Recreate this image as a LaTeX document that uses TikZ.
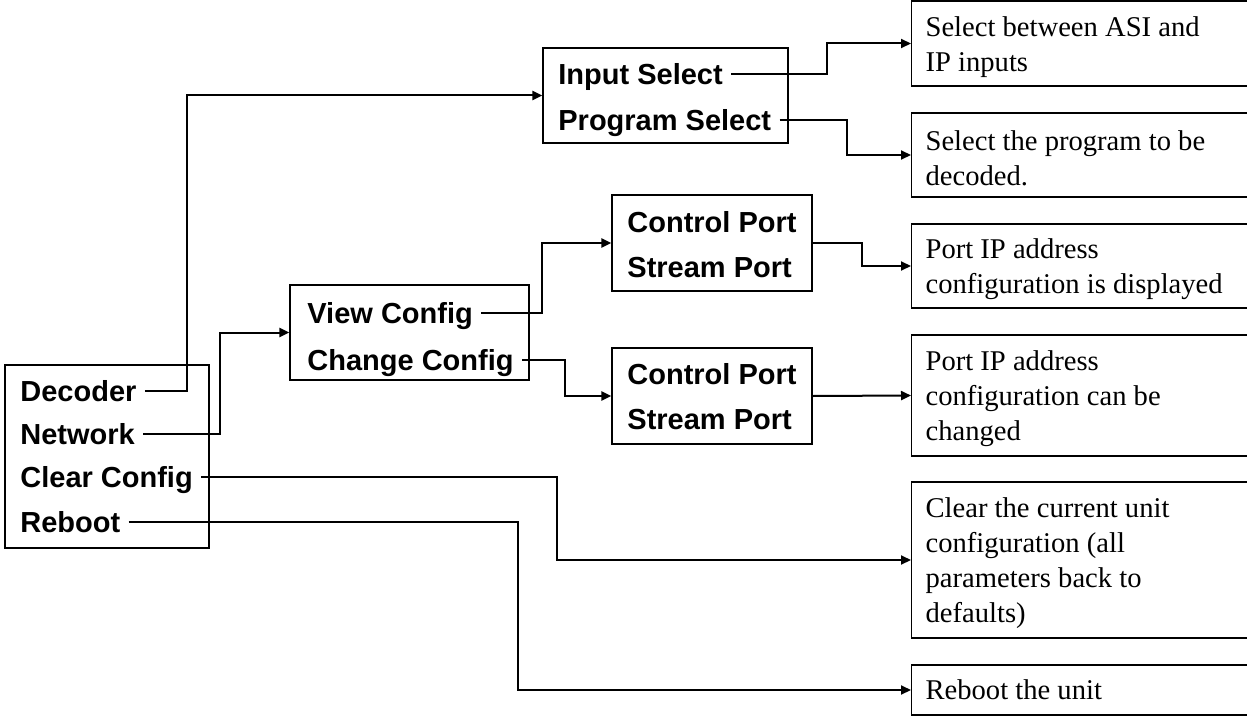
\documentclass[tikz,border=0pt]{standalone}
\usepackage{fontspec}
\setmainfont{Liberation Serif}
\setsansfont{Liberation Sans}
\usetikzlibrary{arrows.meta,positioning}

\begin{document}
\begin{tikzpicture}[
    x=0.5pt, y=-0.5pt,
    menu/.style={draw, line width=0.6pt, inner sep=0pt},
    item/.style={anchor=west, inner xsep=4pt, inner ysep=0pt, text height=10.4pt, text depth=0pt, font=\fontsize{14.5}{17}\selectfont\sffamily\bfseries},
    info/.style={draw, line width=0.6pt, anchor=west, align=flush left, inner xsep=7pt, inner ysep=0pt, text width=155pt, font=\fontsize{14.3}{17.5}\selectfont},
    lowered/.style={execute at begin node={\rule{0pt}{13.5pt}}},
    arrow/.style={-{Triangle[length=5pt,width=4.5pt]}, line width=1pt}
]
\useasboundingbox (0,0) rectangle (1247,717);

% Menu boxes
\node[menu, minimum width=102pt, minimum height=91.5pt] (main) at (107,456.5) {};
\node[menu, minimum width=122.5pt, minimum height=47.5pt] (sel) at (665.5,95.5) {};
\node[menu, minimum width=119.5pt, minimum height=47.5pt] (cfg) at (409.5,332.5) {};
\node[menu, minimum width=100pt, minimum height=48pt] (port1) at (712,243) {};
\node[menu, minimum width=100pt, minimum height=48pt] (port2) at (712,396) {};

% Menu entries
\node[item] (dec) at (12,391) {Decoder};
\node[item] (net) at (12,434) {Network};
\node[item] (clr) at (12,477) {Clear Config};
\node[item] (rbt) at (12,522) {Reboot};
\node[item] (insel) at (550,74) {Input Select};
\node[item] (prsel) at (550,120) {Program Select};
\node[item] (view) at (299,313) {View Config};
\node[item] (chg) at (299,360) {Change Config};
\node[item] (ctl1) at (619,222) {Control Port};
\node[item] (str1) at (619,267) {Stream Port};
\node[item] (ctl2) at (619,374) {Control Port};
\node[item] (str2) at (619,419) {Stream Port};

% Descriptions
\node[info, lowered, minimum height=42.5pt] (insdesc) at (911,43.5) {Select between ASI and\\IP inputs};
\node[info, lowered, minimum height=42pt] (prgdesc) at (911,155) {Select the program to be\\decoded.};
\node[info, lowered, minimum height=42pt] (viewdesc) at (911,266) {Port IP address\\configuration is displayed};
\node[info, lowered, minimum height=60.5pt] (chgdesc) at (911,395.5) {Port IP address\\configuration can be\\changed};
\node[info, lowered, minimum height=78pt] (clrdesc) at (911,560) {Clear the current unit\\configuration (all\\parameters back to\\defaults)};
\node[info, minimum height=25pt] (rbtdesc) at (911,690) {Reboot the unit};

% Bend points
\coordinate (jdec) at (187,0);
\coordinate (jnet) at (220,0);
\coordinate (jclr) at (557,0);
\coordinate (jrbt) at (518,0);
\coordinate (jins) at (827,0);
\coordinate (jprg) at (847,0);
\coordinate (jview) at (542,0);
\coordinate (jchg) at (565,0);
\coordinate (jport) at (862,0);

% Arrows
\draw[arrow] (dec.east) -- (dec.east -| jdec) |- (sel.west);
\draw[arrow] (net.east) -- (net.east -| jnet) |- (cfg.west);
\draw[arrow] (clr.east) -- (clr.east -| jclr) |- (clrdesc.west);
\draw[arrow] (rbt.east) -- (rbt.east -| jrbt) |- (rbtdesc.west);
\draw[arrow] (insel.east) -- (insel.east -| jins) |- (insdesc.west);
\draw[arrow] (prsel.east) -- (prsel.east -| jprg) |- (prgdesc.west);
\draw[arrow] (view.east) -- (view.east -| jview) |- (port1.west);
\draw[arrow] (chg.east) -- (chg.east -| jchg) |- (port2.west);
\draw[arrow] (port1.east) -- (port1.east -| jport) |- (viewdesc.west);
\draw[arrow] (port2.east) -- (chgdesc.west);

\end{tikzpicture}
\end{document}
